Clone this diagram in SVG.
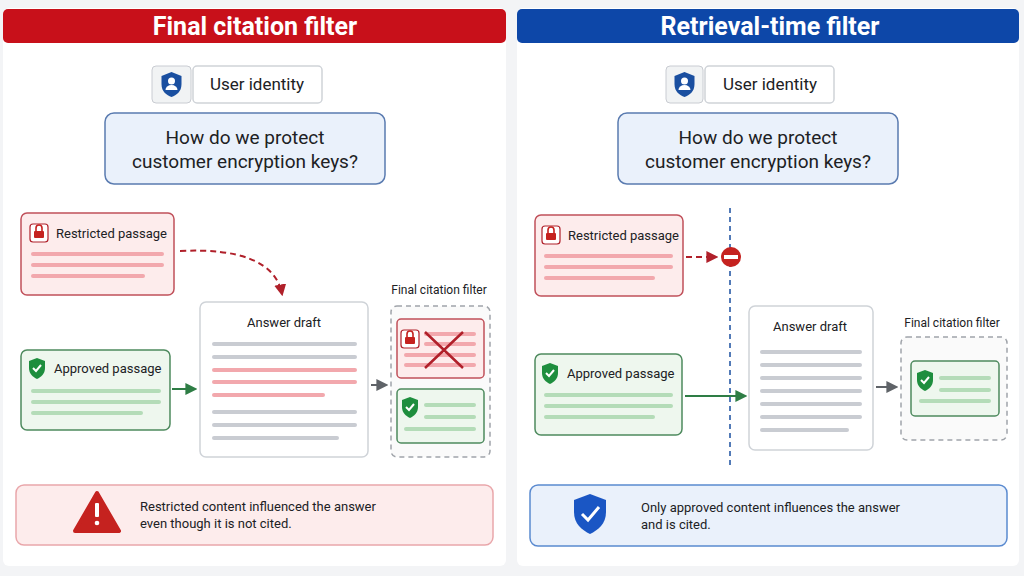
<svg xmlns="http://www.w3.org/2000/svg" width="1024" height="576" viewBox="0 0 1024 576">
<defs>
<style>
text{font-family:Roboto,"Liberation Sans",sans-serif;fill:#202124}
.hdr{font-size:25px;font-weight:700;fill:#fff}
.lbl{font-size:17px}
.q{font-size:19px}
.sm{font-size:13px}
.red{fill:#fdecec;stroke:#c0505a;stroke-width:1.5}
.grn{fill:#eef7ee;stroke:#4e8a5e;stroke-width:1.5}
.wht{fill:#fff;stroke:#cfd3d8;stroke-width:1.5}
.rl{stroke:#f2a8ad;stroke-width:4;stroke-linecap:round}
.gl{stroke:#b4dcb8;stroke-width:4;stroke-linecap:round}
.al{stroke:#c9ccd2;stroke-width:4;stroke-linecap:round}
.dash{fill:#fafafa;stroke:#a0a4aa;stroke-width:1.5;stroke-dasharray:5 4}
</style>
<marker id="ar" viewBox="0 0 10 10" refX="8" refY="5" markerWidth="6" markerHeight="6" orient="auto"><path d="M0 0L10 5L0 10z" fill="#b0202a"/></marker>
<marker id="ag" viewBox="0 0 10 10" refX="8" refY="5" markerWidth="6" markerHeight="6" orient="auto"><path d="M0 0L10 5L0 10z" fill="#2e7d45"/></marker>
<marker id="ay" viewBox="0 0 10 10" refX="8" refY="5" markerWidth="6" markerHeight="6" orient="auto"><path d="M0 0L10 5L0 10z" fill="#5f6368"/></marker>
<g id="lock"><rect x="-9" y="-9" width="18" height="18" rx="3" fill="#fff" stroke="#b0202a" stroke-width="1.2"/><rect x="-5" y="-2" width="10" height="7" rx="1" fill="#c5221f"/><path d="M-3 -2v-3a3 3 0 0 1 6 0v3" fill="none" stroke="#c5221f" stroke-width="1.6"/></g>
<g id="shield"><path d="M0 -10L8 -7V0C8 6 4 9 0 11C-4 9 -8 6 -8 0V-7Z" fill="#1e8e3e"/><path d="M-4 0L-1 3L4 -3" fill="none" stroke="#fff" stroke-width="2"/></g>
<g id="uid"><path d="M0 -12L10 -8V0C10 8 5 11 0 13C-5 11 -10 8 -10 0V-8Z" fill="#1a4fa0"/><circle cx="0" cy="-3" r="3.5" fill="#fff"/><path d="M-6 6a6 5 0 0 1 12 0z" fill="#fff"/></g>
</defs>
<rect width="1024" height="576" fill="#f3f4f6"/>
<g id="left-panel">
<rect x="3" y="8" width="503" height="558" rx="6" fill="#fff"/>
<rect x="3" y="9" width="503" height="34" rx="5" fill="#c8101a"/>
<text class="hdr" x="255" y="35" text-anchor="middle">Final citation filter</text>
</g>
<g id="l-identity">
<rect x="152" y="66" width="39" height="37" rx="4" fill="#f1f3f4" stroke="#c9ccd2"/>
<use href="#uid" x="171.5" y="84"/>
<rect x="193" y="66" width="129" height="37" rx="4" class="wht"/>
<text class="lbl" x="257" y="90" text-anchor="middle">User identity</text>
</g>
<g id="l-question">
<rect x="105" y="113" width="280" height="71" rx="9" fill="#eaf1fb" stroke="#5a7bb0" stroke-width="1.5"/>
<text class="q" x="245" y="144" text-anchor="middle">How do we protect</text>
<text class="q" x="245" y="168" text-anchor="middle">customer encryption keys?</text>
</g>
<g id="l-restricted">
<rect x="21" y="213" width="153" height="82" rx="6" class="red"/>
<use href="#lock" x="39" y="233"/>
<text class="sm" x="56" y="238">Restricted passage</text>
<line class="rl" x1="33" y1="254" x2="162" y2="254"/><line class="rl" x1="33" y1="265" x2="162" y2="265"/><line class="rl" x1="33" y1="276" x2="143" y2="276"/>
</g>
<g id="l-approved">
<rect x="21" y="350" width="149" height="80" rx="6" class="grn"/>
<use href="#shield" x="37" y="368"/>
<text class="sm" x="54" y="373">Approved passage</text>
<line class="gl" x1="33" y1="391" x2="159" y2="391"/><line class="gl" x1="33" y1="402" x2="159" y2="402"/><line class="gl" x1="33" y1="413" x2="141" y2="413"/>
</g>
<g id="l-draft">
<rect x="200" y="302" width="168" height="155" rx="6" class="wht"/>
<text class="sm" x="284" y="327" text-anchor="middle">Answer draft</text>
<line class="al" x1="214" y1="344" x2="355" y2="344"/><line class="al" x1="214" y1="357" x2="355" y2="357"/>
<line class="rl" x1="214" y1="370" x2="355" y2="370"/><line class="rl" x1="214" y1="382" x2="355" y2="382"/><line class="rl" x1="214" y1="395" x2="323" y2="395"/>
<line class="al" x1="214" y1="412" x2="355" y2="412"/><line class="al" x1="214" y1="425" x2="355" y2="425"/><line class="al" x1="214" y1="438" x2="337" y2="438"/>
</g>
<g id="l-filter">
<text class="sm" x="439" y="294" text-anchor="middle" style="font-size:12px">Final citation filter</text>
<rect x="391" y="306" width="99" height="151" rx="6" class="dash"/>
<rect x="397" y="319" width="87" height="59" rx="4" class="red"/>
<use href="#lock" x="410" y="339"/>
<line class="rl" x1="426" y1="334" x2="474" y2="334"/><line class="rl" x1="426" y1="344" x2="474" y2="344"/><line class="rl" x1="406" y1="355" x2="474" y2="355"/><line class="rl" x1="406" y1="365" x2="474" y2="365"/>
<path d="M425 332L463 368M463 332L425 368" stroke="#b0202a" stroke-width="2.5"/>
<rect x="397" y="389" width="87" height="54" rx="4" class="grn"/>
<use href="#shield" x="410" y="407"/>
<line class="gl" x1="426" y1="405" x2="474" y2="405"/><line class="gl" x1="426" y1="417" x2="474" y2="417"/><line class="gl" x1="406" y1="429" x2="474" y2="429"/>
</g>
<g id="l-warning">
<rect x="16" y="485" width="477" height="60" rx="8" fill="#fdecec" stroke="#e9a6aa" stroke-width="1.5"/>
<path d="M97 493L119 531H75Z" fill="#c5221f" stroke="#c5221f" stroke-width="4" stroke-linejoin="round"/>
<rect x="95" y="503" width="4" height="14" rx="1" fill="#fff"/><circle cx="97" cy="523" r="2.3" fill="#fff"/>
<text class="sm" x="140" y="511">Restricted content influenced the answer</text>
<text class="sm" x="140" y="528">even though it is not cited.</text>
</g>
<g id="right-panel">
<rect x="517" y="8" width="502" height="558" rx="6" fill="#fff"/>
<rect x="517" y="9" width="502" height="34" rx="5" fill="#0d47a8"/>
<text class="hdr" x="770" y="35" text-anchor="middle">Retrieval-time filter</text>
</g>
<g id="r-identity">
<rect x="666" y="66" width="37" height="37" rx="4" fill="#f1f3f4" stroke="#c9ccd2"/>
<use href="#uid" x="684.5" y="84"/>
<rect x="705" y="66" width="129" height="37" rx="4" class="wht"/>
<text class="lbl" x="770" y="90" text-anchor="middle">User identity</text>
</g>
<g id="r-question">
<rect x="618" y="113" width="280" height="71" rx="9" fill="#eaf1fb" stroke="#5a7bb0" stroke-width="1.5"/>
<text class="q" x="758" y="144" text-anchor="middle">How do we protect</text>
<text class="q" x="758" y="168" text-anchor="middle">customer encryption keys?</text>
</g>
<g id="r-restricted">
<rect x="535" y="215" width="148" height="81" rx="6" class="red"/>
<use href="#lock" x="551" y="235"/>
<text class="sm" x="568" y="240">Restricted passage</text>
<line class="rl" x1="546" y1="256" x2="671" y2="256"/><line class="rl" x1="546" y1="267" x2="671" y2="267"/><line class="rl" x1="546" y1="278" x2="653" y2="278"/>
</g>
<g id="r-approved">
<rect x="535" y="354" width="147" height="81" rx="6" class="grn"/>
<use href="#shield" x="550" y="373"/>
<text class="sm" x="567" y="378">Approved passage</text>
<line class="gl" x1="546" y1="395" x2="671" y2="395"/><line class="gl" x1="546" y1="406" x2="671" y2="406"/><line class="gl" x1="546" y1="417" x2="653" y2="417"/>
</g>
<g id="r-draft">
<rect x="749" y="306" width="124" height="144" rx="6" class="wht"/>
<text class="sm" x="810" y="331" text-anchor="middle">Answer draft</text>
<line class="al" x1="762" y1="352" x2="860" y2="352"/><line class="al" x1="762" y1="365" x2="860" y2="365"/><line class="al" x1="762" y1="378" x2="860" y2="378"/><line class="al" x1="762" y1="391" x2="860" y2="391"/><line class="al" x1="762" y1="404" x2="860" y2="404"/><line class="al" x1="762" y1="417" x2="860" y2="417"/><line class="al" x1="762" y1="430" x2="847" y2="430"/>
</g>
<g id="r-filter">
<text class="sm" x="952" y="327" text-anchor="middle" style="font-size:12px">Final citation filter</text>
<rect x="901" y="337" width="106" height="103" rx="6" class="dash"/>
<rect x="911" y="361" width="88" height="55" rx="4" class="grn"/>
<use href="#shield" x="925" y="380"/>
<line class="gl" x1="941" y1="378" x2="989" y2="378"/><line class="gl" x1="941" y1="390" x2="989" y2="390"/><line class="gl" x1="921" y1="401" x2="989" y2="401"/>
</g>
<g id="r-info">
<rect x="530" y="485" width="477" height="61" rx="8" fill="#eaf1fb" stroke="#5a8ad0" stroke-width="1.5"/>
<path d="M590 494L606 500V512C606 524 598 530 590 534C582 530 574 524 574 512V500Z" fill="#1a56c4"/>
<path d="M582 514L588 520L599 507" fill="none" stroke="#fff" stroke-width="3"/>
<text class="sm" x="641" y="512">Only approved content influences the answer</text>
<text class="sm" x="641" y="529">and is cited.</text>
</g>
<g id="connectors">
<path d="M180 251C240 248 276 262 282 294" fill="none" stroke="#b0202a" stroke-width="2" stroke-dasharray="6 4" marker-end="url(#ar)"/>
<line x1="172" y1="389" x2="195" y2="389" stroke="#2e7d45" stroke-width="2" marker-end="url(#ag)"/>
<line x1="371" y1="385" x2="386" y2="385" stroke="#5f6368" stroke-width="2" marker-end="url(#ay)"/>
<line x1="730" y1="208" x2="730" y2="467" stroke="#1a4fa0" stroke-width="1.5" stroke-dasharray="5 4"/>
<line x1="686" y1="257" x2="716" y2="257" stroke="#b0202a" stroke-width="2" stroke-dasharray="6 4" marker-end="url(#ar)"/>
<circle cx="731" cy="257" r="10" fill="#c5221f"/><rect x="724" y="255" width="14" height="4" fill="#fff"/>
<line x1="685" y1="396" x2="745" y2="396" stroke="#2e7d45" stroke-width="2" marker-end="url(#ag)"/>
<line x1="876" y1="387" x2="896" y2="387" stroke="#5f6368" stroke-width="2" marker-end="url(#ay)"/>
</g>
</svg>
